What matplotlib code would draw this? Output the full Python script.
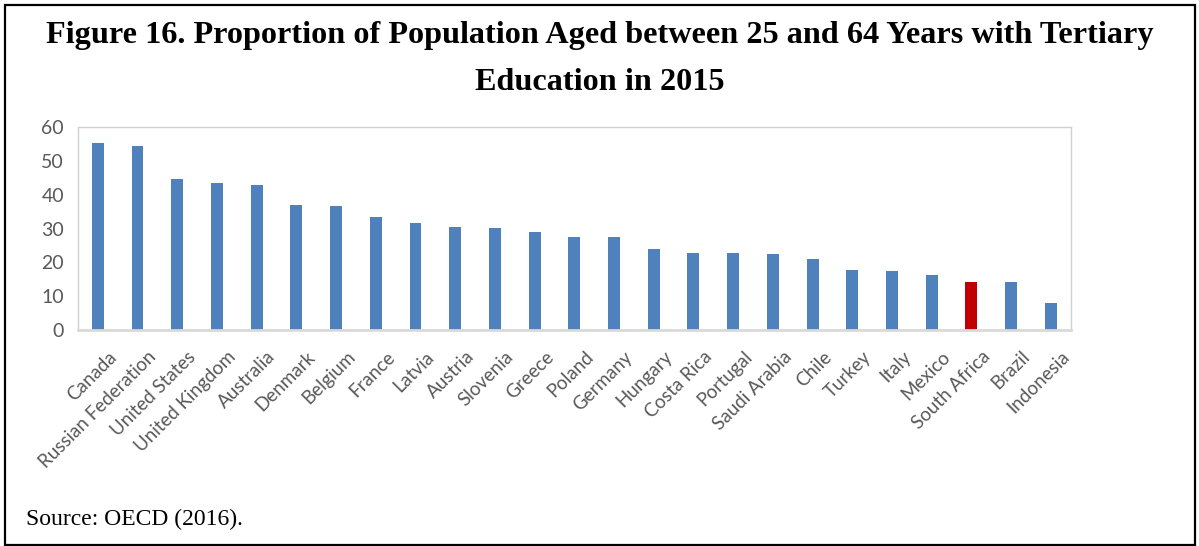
import numpy as np
import matplotlib
matplotlib.use('Agg')
import matplotlib.pyplot as plt
from matplotlib.patches import Rectangle
from matplotlib.transforms import ScaledTranslation

countries = ['Canada', 'Russian Federation', 'United States', 'United Kingdom', 'Australia',
             'Denmark', 'Belgium', 'France', 'Latvia', 'Austria', 'Slovenia', 'Greece',
             'Poland', 'Germany', 'Hungary', 'Costa Rica', 'Portugal', 'Saudi Arabia',
             'Chile', 'Turkey', 'Italy', 'Mexico', 'South Africa', 'Brazil', 'Indonesia']
values = [55.2, 54.4, 44.6, 43.5, 42.9, 37.0, 36.7, 33.4, 31.5, 30.4, 30.1, 29.0,
          27.6, 27.5, 24.0, 22.8, 22.7, 22.5, 20.9, 17.7, 17.3, 16.2, 14.2, 14.1, 8.0]
highlight = 'South Africa'

colors = ['#C00000' if c == highlight else '#4F81BD' for c in countries]

fig = plt.figure(figsize=(11.99, 5.46), dpi=100)
ax = fig.add_axes([0.065, 0.3956, 0.828, 0.3718])

x = np.arange(len(countries))
ax.bar(x, values, width=0.3, color=colors, edgecolor='none')
ax.set_xlim(-0.5, len(countries) - 0.5)
ax.set_ylim(0, 60)
ax.set_yticks(range(0, 61, 10))
ax.set_xticks(x)
ax.tick_params(axis='y', length=0, labelsize=14, labelcolor='#595959', pad=10)
ax.tick_params(axis='x', length=0, pad=13)
ax.set_xticklabels(countries, rotation=45, ha='right', va='top', rotation_mode='anchor',
                   fontsize=13.5, color='#595959', family='Lato')
for lab in ax.get_yticklabels():
    lab.set_fontfamily('Lato')
# shift labels a bit right, like the original
offset = ScaledTranslation(10 / 100, 0, fig.dpi_scale_trans)
for lab in ax.get_xticklabels():
    lab.set_transform(lab.get_transform() + offset)
for s in ['top', 'right', 'left']:
    ax.spines[s].set_color('#D0D0D0')
    ax.spines[s].set_linewidth(1)
ax.spines['bottom'].set_color('#D9D9D9')
ax.spines['bottom'].set_linewidth(2)

fig.text(0.5, 0.935, 'Figure 16. Proportion of Population Aged between 25 and 64 Years with Tertiary',
         ha='center', va='center', fontsize=23.2, fontweight='bold', family='Liberation Serif')
fig.text(0.5, 0.849, 'Education in 2015',
         ha='center', va='center', fontsize=23.2, fontweight='bold', family='Liberation Serif')
fig.text(0.022, 0.049, 'Source: OECD (2016).', ha='left', va='center',
         fontsize=17, family='Liberation Serif')

fig.add_artist(Rectangle((0.004, 0.002), 0.993, 0.989, transform=fig.transFigure,
                         fill=False, edgecolor='black', linewidth=1.6))

fig.savefig('out.png', dpi=100)
